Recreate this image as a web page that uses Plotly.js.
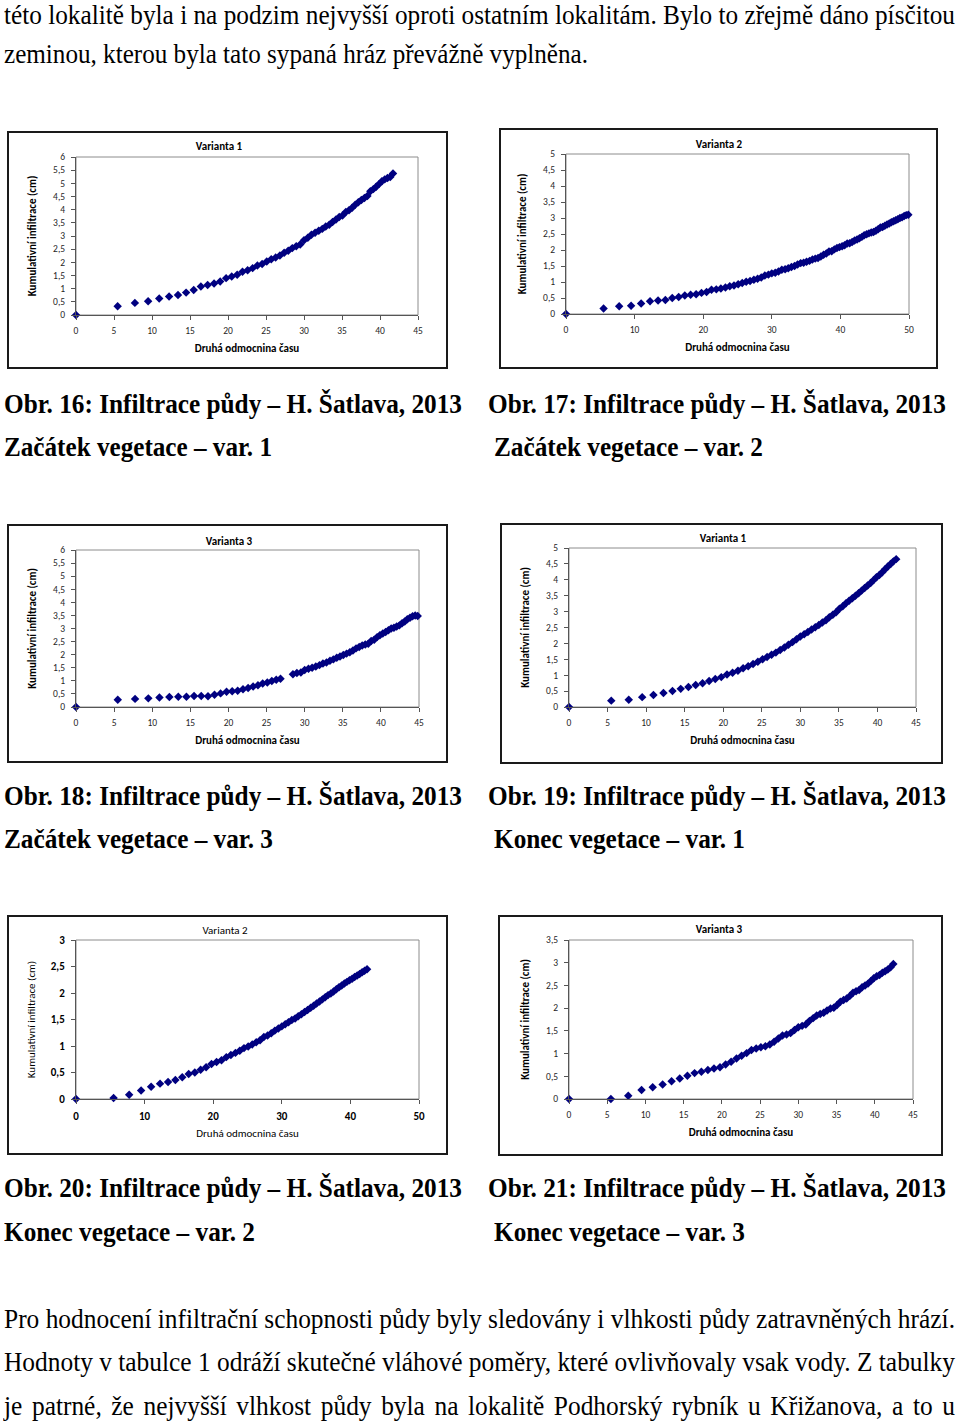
<!DOCTYPE html>
<html>
<head>
<meta charset="utf-8">
<script src="https://cdn.plot.ly/plotly-3.0.1.min.js"></script>
<style>
  html, body { margin:0; padding:0; background:#fff; }
  body { width:960px; height:1424px; position:relative; overflow:hidden; }
  .ln { position:absolute; white-space:nowrap; display:inline-block; font-family:'Liberation Serif','Times New Roman',serif; font-size:27px; line-height:23px; color:#000; transform-origin:0 0; }
  .bd { font-weight:bold; }
  .frame { position:absolute; box-sizing:border-box; border:2px solid #1a1a1a; background:#fff; }
</style>
</head>
<body>
<span class="ln" style="left:4px;top:4px" data-w="951">této lokalitě byla i na podzim nejvyšší oproti ostatním lokalitám. Bylo to zřejmě dáno písčitou</span>
<span class="ln" style="left:4px;top:43px" data-w="584">zeminou, kterou byla tato sypaná hráz převážně vyplněna.</span>

<span class="ln bd" style="left:4px;top:393px" data-w="458">Obr. 16: Infiltrace půdy – H. Šatlava, 2013</span>
<span class="ln bd" style="left:488px;top:393px" data-w="458">Obr. 17: Infiltrace půdy – H. Šatlava, 2013</span>
<span class="ln bd" style="left:4px;top:436px" data-w="268">Začátek vegetace – var. 1</span>
<span class="ln bd" style="left:494px;top:436px" data-w="269">Začátek vegetace – var. 2</span>

<span class="ln bd" style="left:4px;top:785px" data-w="458">Obr. 18: Infiltrace půdy – H. Šatlava, 2013</span>
<span class="ln bd" style="left:488px;top:785px" data-w="458">Obr. 19: Infiltrace půdy – H. Šatlava, 2013</span>
<span class="ln bd" style="left:4px;top:828px" data-w="269">Začátek vegetace – var. 3</span>
<span class="ln bd" style="left:494px;top:828px" data-w="251">Konec vegetace – var. 1</span>

<span class="ln bd" style="left:4px;top:1177px" data-w="458">Obr. 20: Infiltrace půdy – H. Šatlava, 2013</span>
<span class="ln bd" style="left:488px;top:1177px" data-w="458">Obr. 21: Infiltrace půdy – H. Šatlava, 2013</span>
<span class="ln bd" style="left:4px;top:1221px" data-w="251">Konec vegetace – var. 2</span>
<span class="ln bd" style="left:494px;top:1221px" data-w="251">Konec vegetace – var. 3</span>

<span class="ln" id="b1" style="left:4px;top:1308px" data-w="951">Pro hodnocení infiltrační schopnosti půdy byly sledovány i vlhkosti půdy zatravněných hrází.</span>
<span class="ln" style="left:4px;top:1351px" data-w="951">Hodnoty v tabulce 1 odráží skutečné vláhové poměry, které ovlivňovaly vsak vody. Z tabulky</span>
<span class="ln just" style="left:4px;top:1395px" data-w="951">je patrné, že nejvyšší vlhkost půdy byla na lokalitě Podhorský rybník u Křižanova, a to u</span>

<div class="frame" id="f1"><div id="c1"></div></div>
<div class="frame" id="f2"><div id="c2"></div></div>
<div class="frame" id="f3"><div id="c3"></div></div>
<div class="frame" id="f4"><div id="c4"></div></div>
<div class="frame" id="f5"><div id="c5"></div></div>
<div class="frame" id="f6"><div id="c6"></div></div>

<script>
// x values: "Druhá odmocnina času" (square root of time)
const sqrtTime = [0, 5.48, 7.75, 9.49, 10.95, 12.25, 13.42, 14.49, 15.49, 16.43, 17.32, 18.17, 18.97, 19.75, 20.49, 21.21, 21.91, 22.58, 23.24, 23.87, 24.49, 25.10, 25.69, 26.27, 26.83, 27.39, 27.93, 28.46, 28.98, 29.50, 30.00, 30.50, 30.98, 31.46, 31.94, 32.40, 32.86, 33.32, 33.76, 34.21, 34.64, 35.07, 35.50, 35.92, 36.33, 36.74, 37.15, 37.55, 37.95, 38.34, 38.73, 39.12, 39.50, 39.87, 40.25, 40.62, 40.99, 41.35, 41.71, 42.07, 42.43, 42.78, 43.13, 43.47, 43.82, 44.16, 44.50, 44.83, 45.17, 45.50, 45.83, 46.15, 46.48, 46.80, 47.12, 47.43, 47.75, 48.06, 48.37, 48.68, 48.99, 49.30, 49.60, 49.90];

// Kumulativní infiltrace (cm)
const zacatekVar1 = [0, 0.33, 0.46, 0.52, 0.63, 0.70, 0.76, 0.85, 0.95, 1.08, 1.14, 1.20, 1.27, 1.40, 1.46, 1.53, 1.64, 1.70, 1.78, 1.88, 1.94, 2.03, 2.12, 2.18, 2.26, 2.36, 2.44, 2.54, 2.61, 2.68, 2.84, 2.93, 3.05, 3.12, 3.20, 3.27, 3.36, 3.43, 3.53, 3.63, 3.72, 3.78, 3.91, 3.98, 4.07, 4.19, 4.28, 4.37, 4.44, 4.52, 4.70, 4.78, 4.87, 4.97, 5.08, 5.15, 5.20, 5.24, 5.37];
const zacatekVar2 = [0, 0.17, 0.24, 0.26, 0.33, 0.40, 0.42, 0.44, 0.50, 0.53, 0.58, 0.60, 0.62, 0.66, 0.69, 0.76, 0.77, 0.80, 0.83, 0.87, 0.89, 0.93, 0.97, 1.01, 1.03, 1.07, 1.10, 1.14, 1.20, 1.23, 1.27, 1.29, 1.33, 1.38, 1.40, 1.43, 1.47, 1.50, 1.55, 1.59, 1.60, 1.63, 1.66, 1.70, 1.73, 1.75, 1.80, 1.85, 1.89, 1.95, 1.96, 2.02, 2.06, 2.09, 2.12, 2.15, 2.20, 2.21, 2.25, 2.30, 2.33, 2.37, 2.41, 2.46, 2.49, 2.52, 2.55, 2.56, 2.60, 2.65, 2.70, 2.72, 2.76, 2.80, 2.83, 2.87, 2.90, 2.93, 2.96, 3.00, 3.02, 3.06, 3.09, 3.10];
const zacatekVar3 = [0, 0.28, 0.31, 0.33, 0.36, 0.38, 0.39, 0.39, 0.42, 0.42, 0.41, 0.47, 0.52, 0.58, 0.60, 0.62, 0.68, 0.73, 0.78, 0.83, 0.90, 0.94, 0.99, 1.04, 1.08, null, null, 1.25, 1.30, 1.32, 1.41, 1.46, 1.50, 1.55, 1.60, 1.66, 1.70, 1.77, 1.82, 1.88, 1.93, 1.99, 2.04, 2.09, 2.16, 2.24, 2.29, 2.35, 2.39, 2.42, 2.52, 2.57, 2.67, 2.74, 2.81, 2.87, 2.93, 3.00, 3.03, 3.08, 3.12, 3.20, 3.27, 3.35, 3.41, 3.47, 3.50, 3.48];
const konecVar1 = [0, 0.20, 0.23, 0.31, 0.38, 0.44, 0.50, 0.57, 0.63, 0.69, 0.75, 0.82, 0.88, 0.94, 1.02, 1.08, 1.14, 1.22, 1.28, 1.35, 1.42, 1.50, 1.57, 1.64, 1.71, 1.79, 1.87, 1.96, 2.04, 2.13, 2.22, 2.29, 2.36, 2.44, 2.51, 2.58, 2.66, 2.73, 2.82, 2.90, 2.98, 3.09, 3.17, 3.26, 3.34, 3.42, 3.50, 3.58, 3.66, 3.74, 3.82, 3.90, 3.99, 4.08, 4.15, 4.24, 4.33, 4.42, 4.50, 4.58, 4.65];
const konecVar2 = [0, 0.02, 0.08, 0.16, 0.23, 0.29, 0.32, 0.36, 0.41, 0.47, 0.50, 0.55, 0.60, 0.66, 0.70, 0.73, 0.79, 0.83, 0.87, 0.91, 0.96, 0.99, 1.03, 1.07, 1.11, 1.17, 1.20, 1.24, 1.29, 1.33, 1.37, 1.41, 1.45, 1.49, 1.52, 1.56, 1.60, 1.64, 1.68, 1.72, 1.76, 1.80, 1.84, 1.88, 1.92, 1.96, 1.99, 2.03, 2.07, 2.11, 2.14, 2.18, 2.21, 2.24, 2.27, 2.30, 2.33, 2.36, 2.39, 2.42, 2.45];
const konecVar3 = [0, 0.00, 0.07, 0.20, 0.26, 0.32, 0.39, 0.45, 0.51, 0.57, 0.60, 0.64, 0.67, 0.70, 0.76, 0.82, 0.89, 0.95, 1.01, 1.08, 1.11, 1.14, 1.16, 1.20, 1.26, 1.33, 1.40, 1.42, 1.45, 1.52, 1.58, 1.61, 1.64, 1.72, 1.78, 1.84, 1.87, 1.90, 1.95, 1.99, 2.01, 2.07, 2.14, 2.18, 2.21, 2.27, 2.34, 2.37, 2.40, 2.46, 2.50, 2.54, 2.60, 2.66, 2.70, 2.73, 2.78, 2.81, 2.85, 2.90, 2.97];

const chartTitles = ['Varianta 1', 'Varianta 2', 'Varianta 3', 'Varianta 1', 'Varianta 2', 'Varianta 3'];
const xTitle = 'Druhá odmocnina času';
const yTitle = 'Kumulativní infiltrace (cm)';
const yMaxes = [6, 5, 6, 5, 3, 3.5];
const xMaxes = [45, 50, 45, 45, 50, 45];
const xSteps = [5, 10, 5, 5, 10, 5];
const series = [zacatekVar1, zacatekVar2, zacatekVar3, konecVar1, konecVar2, konecVar3];

// layout geometry (page px): frame [x0,y0,x1,y1], plot area [x0,y0,x1,y1], title centre
const geom = [
  {frame:[7,131,448,369],  plot:[76,157,418,315],  tx:219, ty:146},
  {frame:[499,128,938,369],plot:[566,154,909,314], tx:719, ty:144},
  {frame:[7,524,448,763],  plot:[76,550,419,707],  tx:229, ty:541},
  {frame:[500,523,943,764],plot:[569,548,916,707], tx:723, ty:538},
  {frame:[7,915,448,1155], plot:[76,940,419,1099], tx:225, ty:930},
  {frame:[498,915,943,1156],plot:[569,940,913,1099],tx:719, ty:929}
];

const FONT = 'Carlito, Calibri, Lato, "Liberation Sans", sans-serif';

function drawChart(i) {
  const g = geom[i];
  const W = g.frame[2]-g.frame[0], H = g.frame[3]-g.frame[1];
  const f = document.getElementById('f'+(i+1));
  f.style.left = g.frame[0]+'px'; f.style.top = g.frame[1]+'px';
  f.style.width = W+'px'; f.style.height = H+'px';
  const pw = W-4, ph = H-4;
  const ox = g.frame[0]+2, oy = g.frame[1]+2;
  const special = (i === 4);
  const tickFont = special ? {family:FONT, size:11, color:'#000', weight:'bold'} : {family:FONT, size:9.5, color:'#262626'};
  const axTitleFont = special ? {family:FONT, size:11, color:'#000'} : {family:FONT, size:11, color:'#000', weight:'bold'};
  const y = series[i];
  const trace = {
    type:'scatter', mode:'markers',
    x: sqrtTime.slice(0, y.length), y: y,
    marker:{symbol:'diamond', size:6.5, color:'#000080', line:{width:0}},
    cliponaxis:false, hoverinfo:'skip'
  };
  const axisBase = {
    showgrid:false, zeroline:false, showline:true, linecolor:'#555', linewidth:1,
    ticks:'outside', ticklen:4, tickcolor:'#555', tickwidth:1, tick0:0,
    tickfont:tickFont, automargin:false, fixedrange:true
  };
  const layout = {
    width:pw, height:ph,
    margin:{l:g.plot[0]-ox, r:ox+pw-g.plot[2], t:g.plot[1]-oy, b:oy+ph-g.plot[3], pad:0},
    paper_bgcolor:'#fff', plot_bgcolor:'#fff', showlegend:false, separators:', ',
    font:{family:FONT, size:9.5, color:'#262626'},
    title:{text:chartTitles[i], font:{family:FONT, size:11, color:'#000', weight: special ? 'normal' : 'bold'},
           xref:'container', x:(g.tx-ox)/pw, xanchor:'center',
           yref:'container', y:1-(g.ty-oy)/ph, yanchor:'middle'},
    xaxis:Object.assign({}, axisBase, {range:[0, xMaxes[i]], dtick:xSteps[i], ticklabelstandoff:3,
           title:{text:xTitle, font:axTitleFont, standoff:7}}),
    yaxis:Object.assign({}, axisBase, {range:[0, yMaxes[i]], dtick:0.5, ticklabelstandoff:4,
           title:{text:yTitle, font:axTitleFont, standoff:special ? 12 : 14}}),
    shapes:[{type:'rect', xref:'x domain', yref:'y domain', x0:0, x1:1, y0:0, y1:1,
             line:{color:'#8c8c8c', width:1}, layer:'below'}]
  };
  Plotly.newPlot('c'+(i+1), [trace], layout, {staticPlot:true, displayModeBar:false});
}
for (let i = 0; i < 6; i++) drawChart(i);

function fitText() {
  const els = document.querySelectorAll('.ln');
  const b1 = document.getElementById('b1');
  b1.style.transform = 'none';
  const ref = (+b1.dataset.w) / b1.getBoundingClientRect().width;
  els.forEach(el => {
    el.style.transform = 'none'; el.style.wordSpacing = '0px';
    const nat = el.getBoundingClientRect().width;
    const target = +el.dataset.w;
    if (el.classList.contains('just')) {
      const spaces = (el.textContent.match(/ /g) || []).length;
      const ws = (target/ref - nat) / spaces;
      el.style.wordSpacing = ws + 'px';
      el.style.transform = 'scaleX(' + ref + ')';
    } else {
      el.style.transform = 'scaleX(' + (target/nat) + ')';
    }
  });
}
fitText();
if (document.fonts && document.fonts.ready) document.fonts.ready.then(fitText);
</script>
</body>
</html>
